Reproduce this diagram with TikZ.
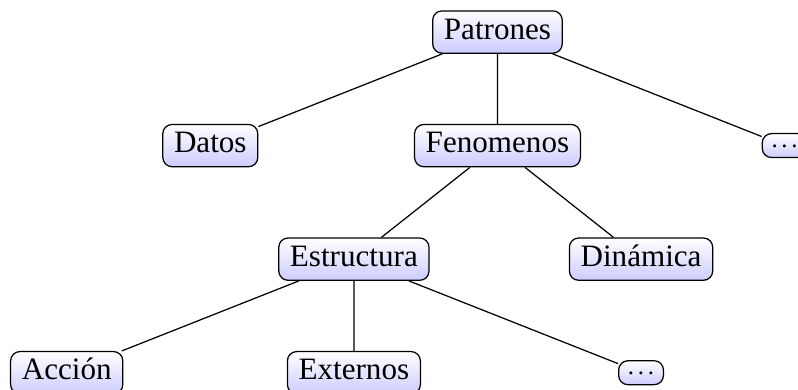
\documentclass[tikz,border=0pt]{standalone}
\usepackage{fontspec}
\setmainfont{Liberation Serif}

\newcommand{\masdots}{.\kern1.2pt.\kern1.2pt.}

\begin{document}
\begin{tikzpicture}[level distance=36.5pt,sibling distance=92.3pt,
        every node/.style={draw,rounded corners=3pt,top color=white,bottom color=blue!20,
          inner xsep=3.6pt,inner ysep=2.3pt,text height=6.8pt,text depth=2.2pt},
        masbox/.style={font=\footnotesize,inner xsep=3pt,text height=1.1pt,text depth=0pt,inner ysep=3.3pt}]

    \useasboundingbox (-159.9pt,-114.8pt) rectangle (96.6pt,10.3pt);
    \node (patrones) {Patrones}
    child   {node (datos) {Datos}}
    child   {node (fenomenos) {Fenomenos}
        child   {node (estructura) {Estructura}
            child   {node (accion) {Acción}}
            child   {node (externos) {Externos}}
            child   {node[masbox] (masestr) {\masdots}}}
        child   {node (dinamica) {Dinámica}}}
    child   {node[masbox] (maspat) {\masdots}};
\end{tikzpicture}
\end{document}
